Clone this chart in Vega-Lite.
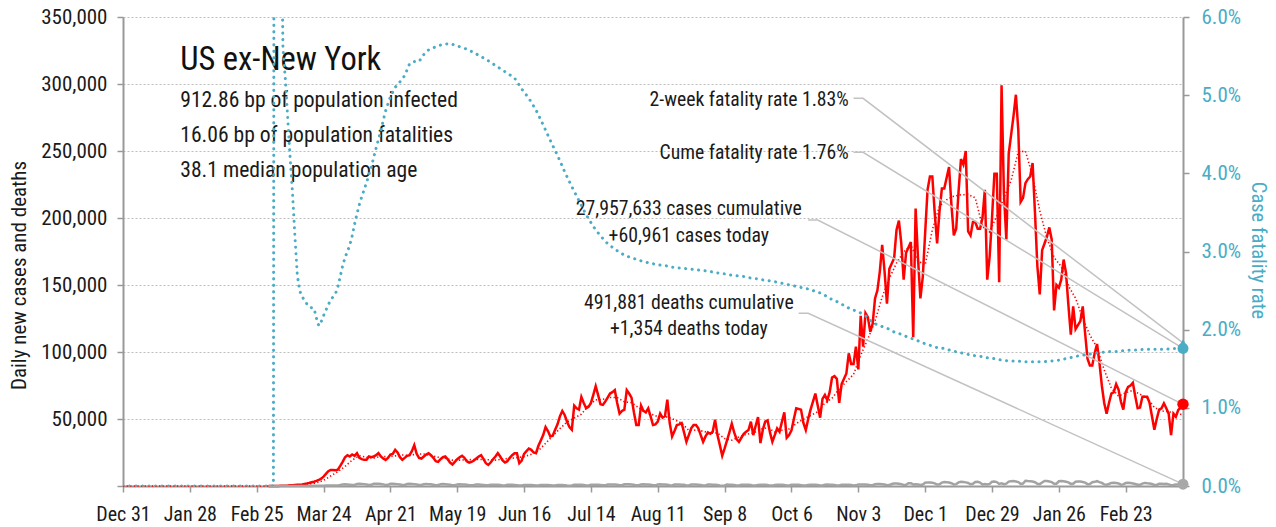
{
"$schema": "https://vega.github.io/schema/vega-lite/v6.json",
"width": 1060, "height": 469,
"autosize": "none",
"padding": {"left": 123, "top": 17, "right": 93, "bottom": 41},
"background": "white",
"config": {"view": {"stroke": null}, "font": "Roboto Condensed, DejaVu Sans Condensed, Liberation Sans Narrow, sans-serif"},
"datasets": {
"daily": [
{"t":"2020-03-01","c":10,"d":0},{"t":"2020-03-02","c":20,"d":0},{"t":"2020-03-03","c":30,"d":0},{"t":"2020-03-04","c":50,"d":0},{"t":"2020-03-05","c":70,"d":0},{"t":"2020-03-06","c":100,"d":0},{"t":"2020-03-07","c":150,"d":0},{"t":"2020-03-08","c":200,"d":0},{"t":"2020-03-09","c":300,"d":0},{"t":"2020-03-10","c":500,"d":0},
{"t":"2020-03-11","c":600,"d":10},{"t":"2020-03-12","c":800,"d":10},{"t":"2020-03-13","c":900,"d":20},{"t":"2020-03-14","c":1000,"d":20},{"t":"2020-03-15","c":1200,"d":30},{"t":"2020-03-16","c":1500,"d":30},{"t":"2020-03-17","c":1800,"d":50},{"t":"2020-03-18","c":2200,"d":70},{"t":"2020-03-19","c":2800,"d":80},{"t":"2020-03-20","c":3200,"d":100},
{"t":"2020-03-21","c":3800,"d":100},{"t":"2020-03-22","c":4500,"d":100},{"t":"2020-03-23","c":5500,"d":150},{"t":"2020-03-24","c":7000,"d":200},{"t":"2020-03-25","c":9000,"d":300},{"t":"2020-03-26","c":11000,"d":350},{"t":"2020-03-27","c":12000,"d":400},{"t":"2020-03-28","c":12000,"d":450},{"t":"2020-03-29","c":11800,"d":400},{"t":"2020-03-30","c":12200,"d":450},{"t":"2020-03-31","c":15000,"d":700},
{"t":"2020-04-01","c":18000,"d":1200},{"t":"2020-04-02","c":21500,"d":1300},{"t":"2020-04-03","c":23000,"d":1200},{"t":"2020-04-04","c":22000,"d":1000},{"t":"2020-04-05","c":23500,"d":750},{"t":"2020-04-06","c":22500,"d":800},{"t":"2020-04-07","c":24500,"d":1500},{"t":"2020-04-08","c":21000,"d":1600},{"t":"2020-04-09","c":20000,"d":1500},{"t":"2020-04-10","c":19500,"d":1400},
{"t":"2020-04-11","c":19500,"d":1100},{"t":"2020-04-12","c":22000,"d":800},{"t":"2020-04-13","c":21500,"d":850},{"t":"2020-04-14","c":22000,"d":1600},{"t":"2020-04-15","c":23000,"d":1700},{"t":"2020-04-16","c":24500,"d":1600},{"t":"2020-04-17","c":22000,"d":1500},{"t":"2020-04-18","c":20500,"d":1200},{"t":"2020-04-19","c":19500,"d":800},{"t":"2020-04-20","c":21000,"d":900},
{"t":"2020-04-21","c":23500,"d":1600},{"t":"2020-04-22","c":24000,"d":1600},{"t":"2020-04-23","c":27000,"d":1500},{"t":"2020-04-24","c":25000,"d":1400},{"t":"2020-04-25","c":21500,"d":1100},{"t":"2020-04-26","c":19500,"d":750},{"t":"2020-04-27","c":21000,"d":800},{"t":"2020-04-28","c":22500,"d":1500},{"t":"2020-04-29","c":23000,"d":1600},{"t":"2020-04-30","c":26000,"d":1500},
{"t":"2020-05-01","c":30500,"d":1400},{"t":"2020-05-02","c":24000,"d":1100},{"t":"2020-05-03","c":21000,"d":700},{"t":"2020-05-04","c":20500,"d":750},{"t":"2020-05-05","c":22000,"d":1400},{"t":"2020-05-06","c":23500,"d":1500},{"t":"2020-05-07","c":24500,"d":1400},{"t":"2020-05-08","c":23000,"d":1300},{"t":"2020-05-09","c":21000,"d":1000},{"t":"2020-05-10","c":18500,"d":650},
{"t":"2020-05-11","c":18000,"d":700},{"t":"2020-05-12","c":20000,"d":1300},{"t":"2020-05-13","c":21500,"d":1400},{"t":"2020-05-14","c":22000,"d":1300},{"t":"2020-05-15","c":20000,"d":1200},{"t":"2020-05-16","c":17500,"d":950},{"t":"2020-05-17","c":16000,"d":600},{"t":"2020-05-18","c":18000,"d":650},{"t":"2020-05-19","c":20000,"d":1200},{"t":"2020-05-20","c":21500,"d":1300},
{"t":"2020-05-21","c":22500,"d":1200},{"t":"2020-05-22","c":21000,"d":1100},{"t":"2020-05-23","c":18500,"d":900},{"t":"2020-05-24","c":17500,"d":550},{"t":"2020-05-25","c":18000,"d":500},{"t":"2020-05-26","c":19000,"d":800},{"t":"2020-05-27","c":20500,"d":1200},{"t":"2020-05-28","c":22000,"d":1100},{"t":"2020-05-29","c":23000,"d":1000},{"t":"2020-05-30","c":20000,"d":800},{"t":"2020-05-31","c":17000,"d":500},
{"t":"2020-06-01","c":15700,"d":550},{"t":"2020-06-02","c":17500,"d":950},{"t":"2020-06-03","c":20000,"d":1000},{"t":"2020-06-04","c":22000,"d":950},{"t":"2020-06-05","c":24500,"d":850},{"t":"2020-06-06","c":22000,"d":700},{"t":"2020-06-07","c":19000,"d":450},{"t":"2020-06-08","c":17500,"d":450},{"t":"2020-06-09","c":18500,"d":850},{"t":"2020-06-10","c":21000,"d":900},
{"t":"2020-06-11","c":23000,"d":850},{"t":"2020-06-12","c":24500,"d":750},{"t":"2020-06-13","c":24500,"d":600},{"t":"2020-06-14","c":17000,"d":350},{"t":"2020-06-15","c":19000,"d":400},{"t":"2020-06-16","c":24000,"d":750},{"t":"2020-06-17","c":26000,"d":800},{"t":"2020-06-18","c":28000,"d":750},{"t":"2020-06-19","c":27000,"d":700},{"t":"2020-06-20","c":25000,"d":550},
{"t":"2020-06-21","c":24500,"d":300},{"t":"2020-06-22","c":30000,"d":350},{"t":"2020-06-23","c":34000,"d":750},{"t":"2020-06-24","c":38000,"d":800},{"t":"2020-06-25","c":44000,"d":750},{"t":"2020-06-26","c":41000,"d":700},{"t":"2020-06-27","c":37000,"d":550},{"t":"2020-06-28","c":37500,"d":300},{"t":"2020-06-29","c":42000,"d":350},{"t":"2020-06-30","c":46000,"d":700},
{"t":"2020-07-01","c":52000,"d":750},{"t":"2020-07-02","c":56000,"d":700},{"t":"2020-07-03","c":53000,"d":600},{"t":"2020-07-04","c":48000,"d":350},{"t":"2020-07-05","c":44000,"d":250},{"t":"2020-07-06","c":42000,"d":350},{"t":"2020-07-07","c":60000,"d":900},{"t":"2020-07-08","c":58000,"d":950},{"t":"2020-07-09","c":57000,"d":900},{"t":"2020-07-10","c":66500,"d":850},
{"t":"2020-07-11","c":62000,"d":700},{"t":"2020-07-12","c":58000,"d":450},{"t":"2020-07-13","c":59000,"d":450},{"t":"2020-07-14","c":62000,"d":950},{"t":"2020-07-15","c":68000,"d":1000},{"t":"2020-07-16","c":74500,"d":1000},{"t":"2020-07-17","c":68000,"d":950},{"t":"2020-07-18","c":61000,"d":800},{"t":"2020-07-19","c":60500,"d":500},{"t":"2020-07-20","c":63000,"d":500},
{"t":"2020-07-21","c":66000,"d":1100},{"t":"2020-07-22","c":69000,"d":1200},{"t":"2020-07-23","c":70000,"d":1150},{"t":"2020-07-24","c":71500,"d":1100},{"t":"2020-07-25","c":62000,"d":950},{"t":"2020-07-26","c":54000,"d":500},{"t":"2020-07-27","c":56000,"d":550},{"t":"2020-07-28","c":57000,"d":1250},{"t":"2020-07-29","c":71500,"d":1300},{"t":"2020-07-30","c":69000,"d":1300},{"t":"2020-07-31","c":66000,"d":1200},
{"t":"2020-08-01","c":55000,"d":1000},{"t":"2020-08-02","c":45500,"d":500},{"t":"2020-08-03","c":45500,"d":550},{"t":"2020-08-04","c":60000,"d":1200},{"t":"2020-08-05","c":56000,"d":1300},{"t":"2020-08-06","c":55000,"d":1200},{"t":"2020-08-07","c":58000,"d":1100},{"t":"2020-08-08","c":52000,"d":950},{"t":"2020-08-09","c":45500,"d":500},{"t":"2020-08-10","c":46000,"d":500},
{"t":"2020-08-11","c":48000,"d":1100},{"t":"2020-08-12","c":54000,"d":1300},{"t":"2020-08-13","c":51000,"d":1200},{"t":"2020-08-14","c":52000,"d":1100},{"t":"2020-08-15","c":64500,"d":950},{"t":"2020-08-16","c":47000,"d":500},{"t":"2020-08-17","c":37000,"d":450},{"t":"2020-08-18","c":41000,"d":1100},{"t":"2020-08-19","c":45500,"d":1200},{"t":"2020-08-20","c":46000,"d":1100},
{"t":"2020-08-21","c":47000,"d":1000},{"t":"2020-08-22","c":40000,"d":850},{"t":"2020-08-23","c":33000,"d":450},{"t":"2020-08-24","c":38000,"d":400},{"t":"2020-08-25","c":43000,"d":1100},{"t":"2020-08-26","c":45500,"d":1100},{"t":"2020-08-27","c":45500,"d":1050},{"t":"2020-08-28","c":43000,"d":950},{"t":"2020-08-29","c":38000,"d":800},{"t":"2020-08-30","c":33000,"d":400},{"t":"2020-08-31","c":37000,"d":450},
{"t":"2020-09-01","c":40000,"d":1050},{"t":"2020-09-02","c":39000,"d":1050},{"t":"2020-09-03","c":40500,"d":1000},{"t":"2020-09-04","c":49500,"d":900},{"t":"2020-09-05","c":38000,"d":700},{"t":"2020-09-06","c":30500,"d":350},{"t":"2020-09-07","c":22500,"d":250},{"t":"2020-09-08","c":28000,"d":400},{"t":"2020-09-09","c":34000,"d":1100},{"t":"2020-09-10","c":40000,"d":1000},
{"t":"2020-09-11","c":46500,"d":900},{"t":"2020-09-12","c":40000,"d":700},{"t":"2020-09-13","c":35000,"d":350},{"t":"2020-09-14","c":33000,"d":400},{"t":"2020-09-15","c":36000,"d":1000},{"t":"2020-09-16","c":39000,"d":1000},{"t":"2020-09-17","c":40500,"d":900},{"t":"2020-09-18","c":41800,"d":850},{"t":"2020-09-19","c":48000,"d":700},{"t":"2020-09-20","c":38000,"d":300},
{"t":"2020-09-21","c":45000,"d":350},{"t":"2020-09-22","c":51500,"d":850},{"t":"2020-09-23","c":32000,"d":1000},{"t":"2020-09-24","c":42000,"d":900},{"t":"2020-09-25","c":48000,"d":850},{"t":"2020-09-26","c":49000,"d":700},{"t":"2020-09-27","c":40000,"d":300},{"t":"2020-09-28","c":33000,"d":300},{"t":"2020-09-29","c":38000,"d":800},{"t":"2020-09-30","c":43000,"d":950},
{"t":"2020-10-01","c":40500,"d":950},{"t":"2020-10-02","c":48000,"d":850},{"t":"2020-10-03","c":55000,"d":700},{"t":"2020-10-04","c":36000,"d":350},{"t":"2020-10-05","c":38000,"d":350},{"t":"2020-10-06","c":41500,"d":850},{"t":"2020-10-07","c":50000,"d":950},{"t":"2020-10-08","c":58000,"d":950},{"t":"2020-10-09","c":57500,"d":850},{"t":"2020-10-10","c":57000,"d":650},
{"t":"2020-10-11","c":47000,"d":350},{"t":"2020-10-12","c":41800,"d":350},{"t":"2020-10-13","c":50000,"d":750},{"t":"2020-10-14","c":57000,"d":950},{"t":"2020-10-15","c":63000,"d":950},{"t":"2020-10-16","c":69000,"d":900},{"t":"2020-10-17","c":60000,"d":700},{"t":"2020-10-18","c":51000,"d":400},{"t":"2020-10-19","c":65000,"d":450},{"t":"2020-10-20","c":68000,"d":950},
{"t":"2020-10-21","c":64000,"d":1100},{"t":"2020-10-22","c":70000,"d":1000},{"t":"2020-10-23","c":81000,"d":950},{"t":"2020-10-24","c":82000,"d":800},{"t":"2020-10-25","c":80000,"d":400},{"t":"2020-10-26","c":62000,"d":450},{"t":"2020-10-27","c":76000,"d":1000},{"t":"2020-10-28","c":80000,"d":1000},{"t":"2020-10-29","c":84000,"d":1000},{"t":"2020-10-30","c":99000,"d":1000},{"t":"2020-10-31","c":91000,"d":800},
{"t":"2020-11-01","c":91000,"d":450},{"t":"2020-11-02","c":104000,"d":500},{"t":"2020-11-03","c":87000,"d":1100},{"t":"2020-11-04","c":127000,"d":1200},{"t":"2020-11-05","c":104000,"d":1200},{"t":"2020-11-06","c":129000,"d":1100},{"t":"2020-11-07","c":126000,"d":950},{"t":"2020-11-08","c":115000,"d":500},{"t":"2020-11-09","c":121000,"d":600},{"t":"2020-11-10","c":140000,"d":1300},
{"t":"2020-11-11","c":146000,"d":1400},{"t":"2020-11-12","c":160000,"d":1400},{"t":"2020-11-13","c":180000,"d":1300},{"t":"2020-11-14","c":160000,"d":1100},{"t":"2020-11-15","c":136000,"d":600},{"t":"2020-11-16","c":162000,"d":700},{"t":"2020-11-17","c":166000,"d":1500},{"t":"2020-11-18","c":170000,"d":1800},{"t":"2020-11-19","c":191000,"d":1800},{"t":"2020-11-20","c":198000,"d":1700},
{"t":"2020-11-21","c":181000,"d":1400},{"t":"2020-11-22","c":154000,"d":800},{"t":"2020-11-23","c":174000,"d":850},{"t":"2020-11-24","c":178000,"d":2000},{"t":"2020-11-25","c":182000,"d":2100},{"t":"2020-11-26","c":111000,"d":1200},{"t":"2020-11-27","c":207000,"d":1300},{"t":"2020-11-28","c":170000,"d":1200},{"t":"2020-11-29","c":140000,"d":800},{"t":"2020-11-30","c":156000,"d":1100},
{"t":"2020-12-01","c":189000,"d":2400},{"t":"2020-12-02","c":221000,"d":2700},{"t":"2020-12-03","c":231000,"d":2600},{"t":"2020-12-04","c":231000,"d":2400},{"t":"2020-12-05","c":204000,"d":2000},{"t":"2020-12-06","c":181000,"d":1100},{"t":"2020-12-07","c":205000,"d":1300},{"t":"2020-12-08","c":222000,"d":2500},{"t":"2020-12-09","c":222000,"d":2900},{"t":"2020-12-10","c":230000,"d":2800},
{"t":"2020-12-11","c":238000,"d":2600},{"t":"2020-12-12","c":210000,"d":2100},{"t":"2020-12-13","c":187000,"d":1200},{"t":"2020-12-14","c":192000,"d":1400},{"t":"2020-12-15","c":220000,"d":2700},{"t":"2020-12-16","c":244000,"d":3100},{"t":"2020-12-17","c":240000,"d":3000},{"t":"2020-12-18","c":250000,"d":2700},{"t":"2020-12-19","c":190000,"d":2300},{"t":"2020-12-20","c":187000,"d":1300},
{"t":"2020-12-21","c":197000,"d":1600},{"t":"2020-12-22","c":197000,"d":3000},{"t":"2020-12-23","c":192000,"d":3100},{"t":"2020-12-24","c":192000,"d":2600},{"t":"2020-12-25","c":200000,"d":1200},{"t":"2020-12-26","c":221000,"d":1400},{"t":"2020-12-27","c":154000,"d":1200},{"t":"2020-12-28","c":171000,"d":1600},{"t":"2020-12-29","c":200000,"d":3200},{"t":"2020-12-30","c":233000,"d":3300},{"t":"2020-12-31","c":233000,"d":2900},
{"t":"2021-01-01","c":152000,"d":1500},{"t":"2021-01-02","c":299000,"d":2000},{"t":"2021-01-03","c":218000,"d":1300},{"t":"2021-01-04","c":184000,"d":1700},{"t":"2021-01-05","c":248000,"d":3300},{"t":"2021-01-06","c":262000,"d":3500},{"t":"2021-01-07","c":276000,"d":3700},{"t":"2021-01-08","c":292000,"d":3400},{"t":"2021-01-09","c":266000,"d":2900},{"t":"2021-01-10","c":212000,"d":1600},
{"t":"2021-01-11","c":215000,"d":1800},{"t":"2021-01-12","c":226000,"d":3900},{"t":"2021-01-13","c":229000,"d":3700},{"t":"2021-01-14","c":231000,"d":3600},{"t":"2021-01-15","c":241000,"d":3300},{"t":"2021-01-16","c":204000,"d":2800},{"t":"2021-01-17","c":164000,"d":1600},{"t":"2021-01-18","c":143000,"d":1400},{"t":"2021-01-19","c":176000,"d":2600},{"t":"2021-01-20","c":181000,"d":3800},
{"t":"2021-01-21","c":186000,"d":3700},{"t":"2021-01-22","c":193000,"d":3400},{"t":"2021-01-23","c":184000,"d":2900},{"t":"2021-01-24","c":131000,"d":1700},{"t":"2021-01-25","c":150000,"d":1700},{"t":"2021-01-26","c":148000,"d":3500},{"t":"2021-01-27","c":154000,"d":3700},{"t":"2021-01-28","c":169000,"d":3600},{"t":"2021-01-29","c":159000,"d":3200},{"t":"2021-01-30","c":135000,"d":2700},{"t":"2021-01-31","c":113000,"d":1600},
{"t":"2021-02-01","c":134000,"d":1700},{"t":"2021-02-02","c":117000,"d":3200},{"t":"2021-02-03","c":120000,"d":3400},{"t":"2021-02-04","c":123000,"d":3300},{"t":"2021-02-05","c":134000,"d":3000},{"t":"2021-02-06","c":114000,"d":2500},{"t":"2021-02-07","c":95000,"d":1400},{"t":"2021-02-08","c":90000,"d":1500},{"t":"2021-02-09","c":90000,"d":2800},{"t":"2021-02-10","c":99000,"d":3100},
{"t":"2021-02-11","c":106000,"d":3600},{"t":"2021-02-12","c":92000,"d":2900},{"t":"2021-02-13","c":75000,"d":2300},{"t":"2021-02-14","c":62000,"d":1200},{"t":"2021-02-15","c":54000,"d":900},{"t":"2021-02-16","c":62000,"d":1500},{"t":"2021-02-17","c":69000,"d":2300},{"t":"2021-02-18","c":70000,"d":2400},{"t":"2021-02-19","c":76000,"d":2300},{"t":"2021-02-20","c":72000,"d":1900},
{"t":"2021-02-21","c":63000,"d":1000},{"t":"2021-02-22","c":57000,"d":1200},{"t":"2021-02-23","c":70000,"d":2200},{"t":"2021-02-24","c":74000,"d":2500},{"t":"2021-02-25","c":75000,"d":2200},{"t":"2021-02-26","c":77000,"d":1900},{"t":"2021-02-27","c":67000,"d":1500},{"t":"2021-02-28","c":58000,"d":900},
{"t":"2021-03-01","c":58500,"d":900},{"t":"2021-03-02","c":66600,"d":1800},{"t":"2021-03-03","c":66600,"d":2300},{"t":"2021-03-04","c":66600,"d":2000},{"t":"2021-03-05","c":62000,"d":1900},{"t":"2021-03-06","c":52000,"d":1500},{"t":"2021-03-07","c":42000,"d":800},{"t":"2021-03-08","c":50000,"d":800},{"t":"2021-03-09","c":57000,"d":1700},{"t":"2021-03-10","c":58000,"d":1600},
{"t":"2021-03-11","c":61700,"d":1500},{"t":"2021-03-12","c":58000,"d":1700},{"t":"2021-03-13","c":54000,"d":1200},{"t":"2021-03-14","c":38000,"d":600},{"t":"2021-03-15","c":54000,"d":700},{"t":"2021-03-16","c":51700,"d":1200},{"t":"2021-03-17","c":56700,"d":1300},{"t":"2021-03-18","c":58500,"d":1500},{"t":"2021-03-19","c":60961,"d":1354}
],
"avg": [
{"t":"2019-12-31","a":0},{"t":"2020-02-29","a":0},{"t":"2020-03-04","a":30},{"t":"2020-03-07","a":80},{"t":"2020-03-10","a":200},{"t":"2020-03-13","a":500},{"t":"2020-03-16","a":930},{"t":"2020-03-20","a":1960},{"t":"2020-03-22","a":2900},{"t":"2020-03-24","a":4140},{"t":"2020-03-27","a":7500},{"t":"2020-03-30","a":10700},
{"t":"2020-04-02","a":14600},{"t":"2020-04-05","a":19300},{"t":"2020-04-08","a":22600},{"t":"2020-04-11","a":21500},{"t":"2020-04-14","a":20800},{"t":"2020-04-17","a":22100},{"t":"2020-04-20","a":21800},{"t":"2020-04-23","a":22500},{"t":"2020-04-26","a":23100},{"t":"2020-04-29","a":22800},
{"t":"2020-05-02","a":23800},{"t":"2020-05-05","a":23900},{"t":"2020-05-08","a":22600},{"t":"2020-05-11","a":21500},{"t":"2020-05-14","a":20600},{"t":"2020-05-17","a":19300},{"t":"2020-05-20","a":19300},{"t":"2020-05-23","a":19600},{"t":"2020-05-26","a":19700},{"t":"2020-05-29","a":19800},
{"t":"2020-06-01","a":19600},{"t":"2020-06-04","a":19300},{"t":"2020-06-07","a":20100},{"t":"2020-06-10","a":20600},{"t":"2020-06-13","a":21100},{"t":"2020-06-16","a":21900},{"t":"2020-06-19","a":23600},{"t":"2020-06-22","a":26400},{"t":"2020-06-25","a":31800},{"t":"2020-06-28","a":37400},
{"t":"2020-07-01","a":42800},{"t":"2020-07-04","a":47800},{"t":"2020-07-07","a":50700},{"t":"2020-07-10","a":53600},{"t":"2020-07-13","a":60100},{"t":"2020-07-16","a":64300},{"t":"2020-07-19","a":64700},{"t":"2020-07-22","a":66000},{"t":"2020-07-25","a":66000},{"t":"2020-07-28","a":62800},{"t":"2020-07-31","a":62200},
{"t":"2020-08-03","a":58500},{"t":"2020-08-06","a":54700},{"t":"2020-08-09","a":53100},{"t":"2020-08-12","a":51200},{"t":"2020-08-15","a":51600},{"t":"2020-08-18","a":49500},{"t":"2020-08-21","a":46900},{"t":"2020-08-24","a":41500},{"t":"2020-08-27","a":41700},{"t":"2020-08-30","a":40900},
{"t":"2020-09-02","a":39400},{"t":"2020-09-05","a":39600},{"t":"2020-09-08","a":35400},{"t":"2020-09-11","a":34200},{"t":"2020-09-14","a":36600},{"t":"2020-09-17","a":38600},{"t":"2020-09-20","a":39500},{"t":"2020-09-23","a":42400},{"t":"2020-09-26","a":43600},{"t":"2020-09-29","a":40300},
{"t":"2020-10-02","a":41600},{"t":"2020-10-05","a":42600},{"t":"2020-10-08","a":46600},{"t":"2020-10-11","a":49900},{"t":"2020-10-14","a":52600},{"t":"2020-10-17","a":55400},{"t":"2020-10-20","a":61900},{"t":"2020-10-23","a":65600},{"t":"2020-10-26","a":72400},{"t":"2020-10-29","a":77900},
{"t":"2020-11-01","a":83300},{"t":"2020-11-04","a":97600},{"t":"2020-11-07","a":109700},{"t":"2020-11-10","a":123100},{"t":"2020-11-13","a":141100},{"t":"2020-11-16","a":154900},{"t":"2020-11-19","a":166400},{"t":"2020-11-22","a":174600},{"t":"2020-11-25","a":179700},{"t":"2020-11-28","a":168000},
{"t":"2020-12-01","a":165000},{"t":"2020-12-04","a":191100},{"t":"2020-12-07","a":208900},{"t":"2020-12-10","a":213600},{"t":"2020-12-13","a":216300},{"t":"2020-12-16","a":217300},{"t":"2020-12-19","a":217600},{"t":"2020-12-22","a":215000},{"t":"2020-12-25","a":193600},{"t":"2020-12-28","a":189600},{"t":"2020-12-31","a":201700},
{"t":"2021-01-03","a":215100},{"t":"2021-01-06","a":228000},{"t":"2021-01-09","a":249400},{"t":"2021-01-12","a":249900},{"t":"2021-01-15","a":231400},{"t":"2021-01-18","a":205400},{"t":"2021-01-21","a":185000},{"t":"2021-01-24","a":170600},{"t":"2021-01-27","a":163700},{"t":"2021-01-30","a":149400},
{"t":"2021-02-02","a":140100},{"t":"2021-02-05","a":125100},{"t":"2021-02-08","a":112600},{"t":"2021-02-11","a":103300},{"t":"2021-02-14","a":86600},{"t":"2021-02-17","a":73100},{"t":"2021-02-20","a":67000},{"t":"2021-02-23","a":69600},{"t":"2021-02-26","a":71300},
{"t":"2021-03-01","a":68500},{"t":"2021-03-04","a":65700},{"t":"2021-03-07","a":58700},{"t":"2021-03-10","a":56000},{"t":"2021-03-13","a":55500},{"t":"2021-03-16","a":53700},{"t":"2021-03-19","a":53400}
],
"cfr": [
{"t":"2019-12-31","r":0},{"t":"2020-03-03","r":0},{"t":"2020-03-04","r":30},{"t":"2020-03-05","r":16},{"t":"2020-03-06","r":8},{"t":"2020-03-07","r":5.6},{"t":"2020-03-08","r":5.2},{"t":"2020-03-09","r":4.7},{"t":"2020-03-10","r":4.2},{"t":"2020-03-11","r":3.75},{"t":"2020-03-12","r":3.2},{"t":"2020-03-13","r":2.7},{"t":"2020-03-14","r":2.5},{"t":"2020-03-15","r":2.42},{"t":"2020-03-16","r":2.38},{"t":"2020-03-17","r":2.33},{"t":"2020-03-18","r":2.29},{"t":"2020-03-19","r":2.28},{"t":"2020-03-20","r":2.27},{"t":"2020-03-21","r":2.15},{"t":"2020-03-22","r":2.05},{"t":"2020-03-23","r":2.1},{"t":"2020-03-24","r":2.18},{"t":"2020-03-25","r":2.25},{"t":"2020-03-26","r":2.32},{"t":"2020-03-27","r":2.38},{"t":"2020-03-28","r":2.42},{"t":"2020-03-29","r":2.46},{"t":"2020-03-30","r":2.55},{"t":"2020-03-31","r":2.68},
{"t":"2020-04-01","r":2.82},{"t":"2020-04-02","r":2.92},{"t":"2020-04-03","r":3.0},{"t":"2020-04-04","r":3.08},{"t":"2020-04-05","r":3.2},{"t":"2020-04-06","r":3.35},{"t":"2020-04-07","r":3.48},{"t":"2020-04-08","r":3.6},{"t":"2020-04-09","r":3.7},{"t":"2020-04-11","r":3.88},{"t":"2020-04-13","r":4.08},{"t":"2020-04-15","r":4.32},{"t":"2020-04-17","r":4.55},{"t":"2020-04-19","r":4.8},{"t":"2020-04-21","r":4.98},{"t":"2020-04-23","r":5.1},{"t":"2020-04-25","r":5.17},{"t":"2020-04-27","r":5.25},{"t":"2020-04-29","r":5.4},
{"t":"2020-05-01","r":5.43},{"t":"2020-05-03","r":5.43},{"t":"2020-05-05","r":5.52},{"t":"2020-05-07","r":5.58},{"t":"2020-05-10","r":5.62},{"t":"2020-05-13","r":5.65},{"t":"2020-05-16","r":5.66},{"t":"2020-05-19","r":5.63},{"t":"2020-05-22","r":5.6},{"t":"2020-05-25","r":5.56},{"t":"2020-05-28","r":5.51},{"t":"2020-05-31","r":5.46},
{"t":"2020-06-03","r":5.4},{"t":"2020-06-06","r":5.34},{"t":"2020-06-09","r":5.28},{"t":"2020-06-12","r":5.22},{"t":"2020-06-15","r":5.08},{"t":"2020-06-18","r":4.96},{"t":"2020-06-21","r":4.81},{"t":"2020-06-24","r":4.62},{"t":"2020-06-27","r":4.42},{"t":"2020-06-30","r":4.23},
{"t":"2020-07-03","r":4.02},{"t":"2020-07-06","r":3.83},{"t":"2020-07-09","r":3.65},{"t":"2020-07-12","r":3.47},{"t":"2020-07-15","r":3.32},{"t":"2020-07-18","r":3.2},{"t":"2020-07-21","r":3.1},{"t":"2020-07-24","r":3.03},{"t":"2020-07-27","r":2.97},{"t":"2020-07-30","r":2.93},
{"t":"2020-08-02","r":2.9},{"t":"2020-08-05","r":2.87},{"t":"2020-08-08","r":2.85},{"t":"2020-08-11","r":2.83},{"t":"2020-08-14","r":2.82},{"t":"2020-08-17","r":2.8},{"t":"2020-08-20","r":2.79},{"t":"2020-08-23","r":2.78},{"t":"2020-08-26","r":2.77},{"t":"2020-08-29","r":2.76},
{"t":"2020-09-01","r":2.75},{"t":"2020-09-04","r":2.73},{"t":"2020-09-07","r":2.72},{"t":"2020-09-10","r":2.7},{"t":"2020-09-13","r":2.69},{"t":"2020-09-16","r":2.68},{"t":"2020-09-19","r":2.66},{"t":"2020-09-22","r":2.65},{"t":"2020-09-25","r":2.63},{"t":"2020-09-28","r":2.62},
{"t":"2020-10-01","r":2.6},{"t":"2020-10-04","r":2.58},{"t":"2020-10-07","r":2.56},{"t":"2020-10-10","r":2.54},{"t":"2020-10-13","r":2.52},{"t":"2020-10-16","r":2.49},{"t":"2020-10-19","r":2.46},{"t":"2020-10-22","r":2.4},{"t":"2020-10-25","r":2.36},{"t":"2020-10-28","r":2.31},{"t":"2020-10-31","r":2.26},
{"t":"2020-11-03","r":2.23},{"t":"2020-11-06","r":2.18},{"t":"2020-11-09","r":2.09},{"t":"2020-11-12","r":2.05},{"t":"2020-11-15","r":2.02},{"t":"2020-11-18","r":1.97},{"t":"2020-11-21","r":1.94},{"t":"2020-11-24","r":1.9},{"t":"2020-11-27","r":1.87},{"t":"2020-11-30","r":1.83},
{"t":"2020-12-03","r":1.8},{"t":"2020-12-06","r":1.77},{"t":"2020-12-09","r":1.76},{"t":"2020-12-12","r":1.73},{"t":"2020-12-15","r":1.71},{"t":"2020-12-18","r":1.69},{"t":"2020-12-21","r":1.67},{"t":"2020-12-24","r":1.66},{"t":"2020-12-27","r":1.64},{"t":"2020-12-30","r":1.63},
{"t":"2021-01-02","r":1.61},{"t":"2021-01-05","r":1.6},{"t":"2021-01-08","r":1.6},{"t":"2021-01-11","r":1.59},{"t":"2021-01-14","r":1.59},{"t":"2021-01-17","r":1.59},{"t":"2021-01-20","r":1.59},{"t":"2021-01-23","r":1.6},{"t":"2021-01-26","r":1.61},{"t":"2021-01-29","r":1.63},
{"t":"2021-02-01","r":1.65},{"t":"2021-02-04","r":1.67},{"t":"2021-02-07","r":1.68},{"t":"2021-02-10","r":1.7},{"t":"2021-02-13","r":1.71},{"t":"2021-02-16","r":1.72},{"t":"2021-02-19","r":1.72},{"t":"2021-02-22","r":1.73},{"t":"2021-02-25","r":1.74},{"t":"2021-02-28","r":1.74},
{"t":"2021-03-03","r":1.75},{"t":"2021-03-06","r":1.75},{"t":"2021-03-09","r":1.75},{"t":"2021-03-12","r":1.75},{"t":"2021-03-15","r":1.76},{"t":"2021-03-19","r":1.76}
],
"lead": [
{"g":"a","o":1,"t":"2020-11-01","v":289300},{"g":"a","o":2,"t":"2020-11-05","v":289300},{"g":"a","o":3,"t":"2021-03-19","v":106750},
{"g":"b","o":1,"t":"2020-11-01","v":249000},{"g":"b","o":2,"t":"2020-11-05","v":249000},{"g":"b","o":3,"t":"2021-03-19","v":102670},
{"g":"c","o":1,"t":"2020-10-13","v":198500},{"g":"c","o":2,"t":"2020-10-17","v":198500},{"g":"c","o":3,"t":"2021-03-19","v":60961},
{"g":"d","o":1,"t":"2020-10-09","v":128900},{"g":"d","o":2,"t":"2020-10-13","v":128900},{"g":"d","o":3,"t":"2021-03-19","v":1354}
]
},
"layer": [
{"layer": [
{"data": {"name": "avg"},
 "mark": {"type": "line", "color": "#ff0000", "strokeWidth": 1.6, "strokeDash": [1.3, 2.3]},
 "encoding": {
  "x": {"field": "t", "type": "temporal",
   "scale": {"type": "utc", "domain": [{"year":2019,"month":12,"date":31,"utc":true},{"year":2021,"month":3,"date":19,"utc":true}]},
   "axis": {"orient": "bottom", "title": null, "grid": false, "format": "%b %-d",
    "values": [{"year":2019,"month":12,"date":31,"utc":true},{"year":2020,"month":1,"date":28,"utc":true},{"year":2020,"month":2,"date":25,"utc":true},{"year":2020,"month":3,"date":24,"utc":true},{"year":2020,"month":4,"date":21,"utc":true},{"year":2020,"month":5,"date":19,"utc":true},{"year":2020,"month":6,"date":16,"utc":true},{"year":2020,"month":7,"date":14,"utc":true},{"year":2020,"month":8,"date":11,"utc":true},{"year":2020,"month":9,"date":8,"utc":true},{"year":2020,"month":10,"date":6,"utc":true},{"year":2020,"month":11,"date":3,"utc":true},{"year":2020,"month":12,"date":1,"utc":true},{"year":2020,"month":12,"date":29,"utc":true},{"year":2021,"month":1,"date":26,"utc":true},{"year":2021,"month":2,"date":23,"utc":true}],
    "labelFontSize": 20, "labelColor": "#1a1a1a", "labelPadding": 12, "labelOverlap": false, "labelFlush": false,
    "domainColor": "#999999", "domainWidth": 2, "tickColor": "#999999", "tickWidth": 1.5, "tickSize": 6}},
  "y": {"field": "a", "type": "quantitative",
   "scale": {"domain": [0, 350000], "nice": false},
   "axis": {"orient": "left", "values": [0,50000,100000,150000,200000,250000,300000,350000],
    "labelExpr": "datum.value == 0 ? '' : format(datum.value, ',')", "labelFlush": false,
    "grid": true, "gridColor": "#bdbdbd", "gridDash": [2, 2], "gridWidth": 1,
    "domainColor": "#999999", "domainWidth": 2, "tickColor": "#999999", "tickWidth": 1.5, "tickSize": 6,
    "labelFontSize": 21, "labelColor": "#1a1a1a", "labelPadding": 10,
    "title": "Daily new cases and deaths", "titleFontSize": 21, "titleFontWeight": "normal", "titleColor": "#1a1a1a",
    "titleAngle": -90, "titleX": -104, "titleY": 258, "titleBaseline": "middle", "titleAlign": "center"}}
 }},
{"data": {"name": "daily"},
 "mark": {"type": "line", "color": "#ff0000", "strokeWidth": 2.5},
 "encoding": {"x": {"field": "t", "type": "temporal"}, "y": {"field": "c", "type": "quantitative"}}},
{"data": {"name": "daily"},
 "mark": {"type": "line", "color": "#a3a3a3", "strokeWidth": 2.5},
 "encoding": {"x": {"field": "t", "type": "temporal"}, "y": {"field": "d", "type": "quantitative"}}},
{"data": {"name": "lead"},
 "mark": {"type": "line", "color": "#c2c2c2", "strokeWidth": 1.5},
 "encoding": {"x": {"field": "t", "type": "temporal"}, "y": {"field": "v", "type": "quantitative"}, "detail": {"field": "g"}, "order": {"field": "o"}}},
{"data": {"values": [{"t": "2021-03-19", "v": 60961}]},
 "mark": {"type": "point", "filled": true, "opacity": 1, "color": "#ff0000", "size": 130},
 "encoding": {"x": {"field": "t", "type": "temporal"}, "y": {"field": "v", "type": "quantitative"}}},
{"data": {"values": [{"t": "2021-03-19", "v": 1354}]},
 "mark": {"type": "point", "filled": true, "opacity": 1, "color": "#a8a8a8", "size": 120},
 "encoding": {"x": {"field": "t", "type": "temporal"}, "y": {"field": "v", "type": "quantitative"}}},
{"data": {"values": [{"t": "2020-01-24", "v": 310500, "label": "US ex-New York"}]},
 "mark": {"type": "text", "align": "left", "baseline": "alphabetic", "fontSize": 32.5, "color": "#111111"},
 "encoding": {"x": {"field": "t", "type": "temporal"}, "y": {"field": "v", "type": "quantitative"}, "text": {"field": "label"}}},
{"data": {"values": [
  {"t": "2020-01-24", "v": 282900, "label": "912.86 bp of population infected"},
  {"t": "2020-01-24", "v": 257000, "label": "16.06 bp of population fatalities"},
  {"t": "2020-01-24", "v": 230800, "label": "38.1 median population age"}]},
 "mark": {"type": "text", "align": "left", "baseline": "alphabetic", "fontSize": 21.6, "color": "#1a1a1a"},
 "encoding": {"x": {"field": "t", "type": "temporal"}, "y": {"field": "v", "type": "quantitative"}, "text": {"field": "label"}}},
{"data": {"values": [
  {"t": "2020-10-30", "v": 283600, "label": "2-week fatality rate 1.83%"},
  {"t": "2020-10-30", "v": 243800, "label": "Cume fatality rate 1.76%"}]},
 "mark": {"type": "text", "align": "right", "baseline": "alphabetic", "fontSize": 19.7, "color": "#1a1a1a"},
 "encoding": {"x": {"field": "t", "type": "temporal"}, "y": {"field": "v", "type": "quantitative"}, "text": {"field": "label"}}},
{"data": {"values": [
  {"t": "2020-08-24", "v": 202250, "label": "27,957,633 cases cumulative"},
  {"t": "2020-08-24", "v": 182300, "label": "+60,961 cases today"},
  {"t": "2020-08-24", "v": 131900, "label": "491,881 deaths cumulative"},
  {"t": "2020-08-24", "v": 112700, "label": "+1,354 deaths today"}]},
 "mark": {"type": "text", "align": "center", "baseline": "alphabetic", "fontSize": 19.8, "color": "#1a1a1a"},
 "encoding": {"x": {"field": "t", "type": "temporal"}, "y": {"field": "v", "type": "quantitative"}, "text": {"field": "label"}}}
]},
{"layer": [
{"data": {"name": "cfr"},
 "mark": {"type": "line", "color": "#4bacc6", "strokeWidth": 3, "strokeDash": [0.1, 6.4], "strokeCap": "round", "clip": true},
 "encoding": {
  "x": {"field": "t", "type": "temporal"},
  "y": {"field": "r", "type": "quantitative",
   "scale": {"domain": [0, 6], "nice": false},
   "axis": {"orient": "right", "values": [0,1,2,3,4,5,6],
    "labelExpr": "format(datum.value, '.1f') + '%'", "labelFlush": false,
    "grid": false, "domainColor": "#999999", "domainWidth": 2, "tickColor": "#999999", "tickWidth": 1.5, "tickSize": 6,
    "labelFontSize": 21, "labelColor": "#4bacc6", "labelPadding": 12,
    "title": "Case fatality rate", "titleFontSize": 20.5, "titleFontWeight": "normal", "titleColor": "#4bacc6",
    "titleAngle": 90, "titleX": 74, "titleY": 233, "titleBaseline": "middle", "titleAlign": "center"}}
 }},
{"data": {"values": [{"t": "2021-03-19", "r": 1.76}]},
 "mark": {"type": "point", "filled": true, "opacity": 1, "color": "#4bacc6", "size": 120},
 "encoding": {"x": {"field": "t", "type": "temporal"}, "y": {"field": "r", "type": "quantitative"}}},
{"data": {"values": [{"t": "2021-03-19", "r": 1.83}]},
 "mark": {"type": "point", "filled": true, "opacity": 1, "color": "#4bacc6", "shape": "triangle-up", "size": 70},
 "encoding": {"x": {"field": "t", "type": "temporal"}, "y": {"field": "r", "type": "quantitative"}}}
]}
],
"resolve": {"scale": {"y": "independent"}}
}
